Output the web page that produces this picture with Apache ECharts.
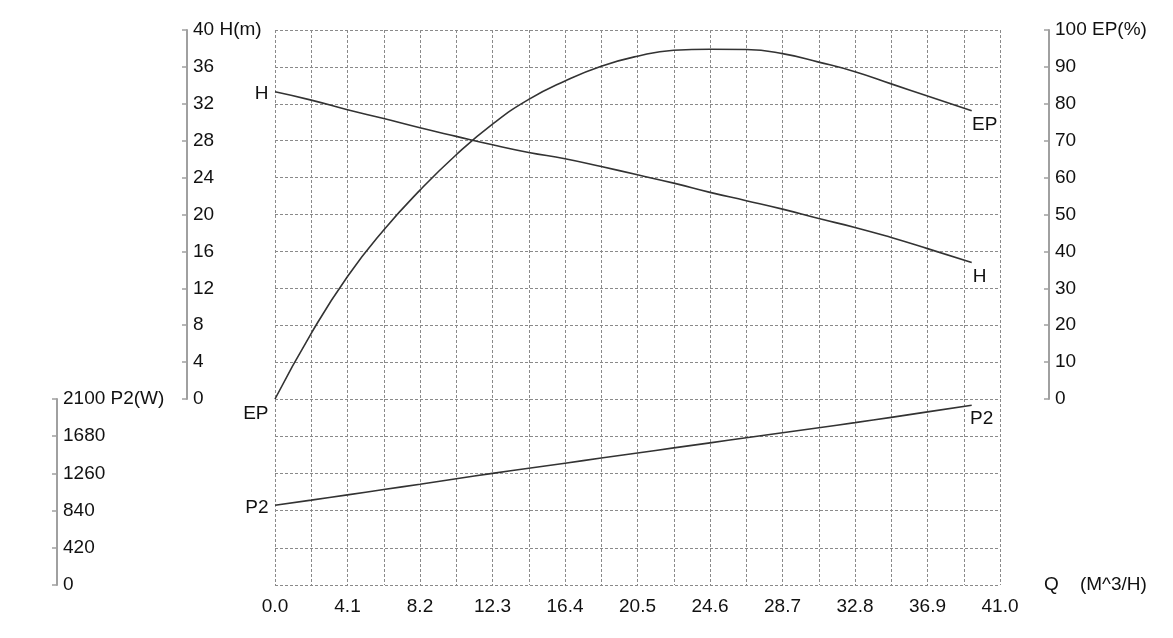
<!DOCTYPE html>
<html>
<head>
<meta charset="utf-8">
<script src="https://cdn.jsdelivr.net/npm/echarts@6/dist/echarts.min.js"></script>
<style>
  html,body{margin:0;padding:0;background:#fff;}
  #chart{width:1173px;height:638px;}
</style>
</head>
<body>
<div id="chart"></div>
<script>
// flow points (M^3/H)
var qVals=[0,2.05,4.1,6.15,8.2,10.25,12.3,14.35,16.4,18.45,20.5,22.55,24.6,26.65,28.7,30.75,32.8,34.85,36.9,39.4];
// head H (m)
var hVals=[33.3,32.4,31.35,30.4,29.4,28.47,27.56,26.73,26.05,25.2,24.3,23.4,22.4,21.5,20.58,19.56,18.6,17.5,16.3,14.8];
// efficiency EP (%)
var epVals=[0,17.8,33.2,45.8,56.6,66.2,74.5,81.2,86.2,90.2,92.9,94.5,94.8,94.7,93.6,91.3,88.7,85.4,82.1,78.1];
// shaft power P2 (W)
var p2Vals=[900,958,1018,1078,1138,1199,1260,1318,1375,1433,1490,1548,1605,1662,1719,1776,1833,1893,1955,2030];
var xTicks=[0,4.1,8.2,12.3,16.4,20.5,24.6,28.7,32.8,36.9,41.0];

var font="'Liberation Sans', Arial, Helvetica, sans-serif";
var textColor="#111";
var gridLine={show:true,lineStyle:{color:"#8a8a8a",type:[3,2],width:1}};
var axisGray="#a0a0a0";

function buildData(vals,startName,startOff,endName,endOff)
{
  var out=[];
  for(var i=0;i<vals.length;i++)
  {
    var item={value:[qVals[i],vals[i]]};
    if(i==0)
    {
      item.label={show:true,formatter:startName,position:"left",distance:6,offset:startOff};
    }
    if(i==vals.length-1)
    {
      item.label={show:true,formatter:endName,position:"bottom",distance:4,offset:endOff};
    }
    out.push(item);
  }
  return out;
}

function curve(name,xi,yi,data)
{
  return {
    name:name,
    type:"line",
    xAxisIndex:xi,
    yAxisIndex:yi,
    data:data,
    smooth:0.5,
    symbol:"circle",
    symbolSize:1,
    showSymbol:true,
    showAllSymbol:true,
    silent:true,
    itemStyle:{color:"rgba(0,0,0,0)"},
    lineStyle:{color:"#333",width:1.6},
    label:{show:false,color:textColor,fontSize:19,fontFamily:font},
    z:5
  };
}

var chart=echarts.init(document.getElementById("chart"),null,{renderer:"canvas"});

var xBase={
  type:"value",
  min:0,
  max:41,
  interval:2.05,
  axisLine:{show:false},
  axisTick:{show:false},
  splitLine:gridLine
};

function yAxisLine()
{
  return {show:true,onZero:false,lineStyle:{color:axisGray,width:2}};
}

chart.setOption({
  animation:false,
  backgroundColor:"#fff",
  textStyle:{fontFamily:font},
  grid:[
    {left:275,right:173,top:30,height:369},
    {left:275,right:173,top:399,height:186}
  ],
  xAxis:[
    Object.assign({},xBase,{gridIndex:0,axisLabel:{show:false}}),
    Object.assign({},xBase,{
      gridIndex:1,
      name:"Q    (M^3/H)",
      nameLocation:"end",
      nameGap:44,
      nameTextStyle:{color:textColor,fontSize:19,fontFamily:font,verticalAlign:"middle",padding:[44,0,0,0]},
      axisLabel:{
        show:true,
        color:textColor,
        fontSize:19,
        fontFamily:font,
        margin:12,
        formatter:function(v,i){
          // only every other line carries a label
          for(var k=0;k<xTicks.length;k++)
          {
            if(Math.abs(xTicks[k]-v)<0.001){return xTicks[k].toFixed(1);}
          }
          return "";
        }
      }
    })
  ],
  yAxis:[
    {
      type:"value",
      gridIndex:0,
      position:"left",
      offset:88,
      min:0,
      max:40,
      interval:4,
      axisLine:yAxisLine(),
      axisTick:{show:true,inside:false,length:5,lineStyle:{color:axisGray,width:1.5}},
      axisLabel:{inside:true,margin:6,color:textColor,fontSize:19,fontFamily:font,
        formatter:function(v){return v==40?"40 H(m)":String(v);}},
      splitLine:gridLine
    },
    {
      type:"value",
      gridIndex:0,
      position:"right",
      offset:49,
      min:0,
      max:100,
      interval:10,
      axisLine:yAxisLine(),
      axisTick:{show:true,inside:true,length:5,lineStyle:{color:axisGray,width:1.5}},
      axisLabel:{inside:false,margin:6,color:textColor,fontSize:19,fontFamily:font,
        formatter:function(v){return v==100?"100 EP(%)":String(v);}},
      splitLine:{show:false}
    },
    {
      type:"value",
      gridIndex:1,
      position:"left",
      offset:218,
      min:0,
      max:2100,
      interval:420,
      axisLine:yAxisLine(),
      axisTick:{show:true,inside:false,length:5,lineStyle:{color:axisGray,width:1.5}},
      axisLabel:{inside:true,margin:6,color:textColor,fontSize:19,fontFamily:font,
        formatter:function(v){return v==2100?"2100 P2(W)":String(v);}},
      splitLine:gridLine
    }
  ],
  series:[
    curve("H",0,0,buildData(hVals,"H",[0,2],"H",[8,0])),
    curve("EP",0,1,buildData(epVals,"EP",[0,15],"EP",[13,0])),
    curve("P2",1,2,buildData(p2Vals,"P2",[0,2],"P2",[10,0]))
  ]
});
</script>
</body>
</html>
